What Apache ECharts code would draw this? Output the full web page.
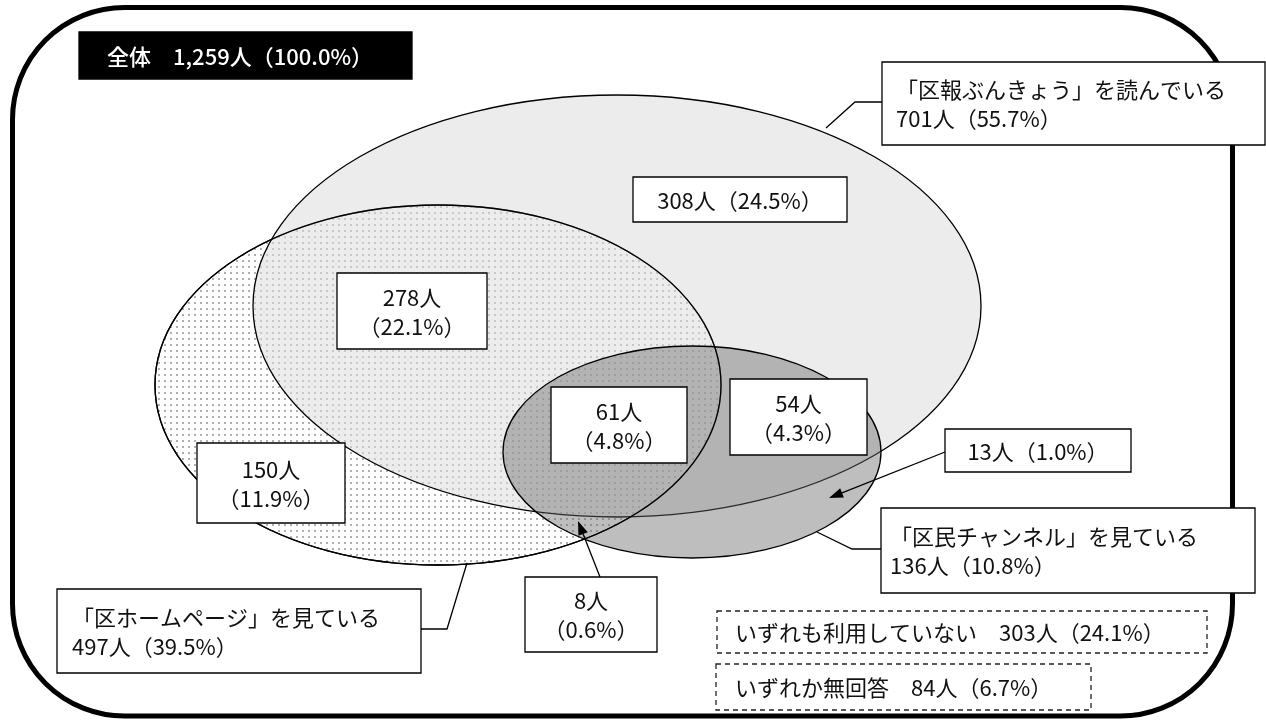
<!DOCTYPE html>
<html>
<head>
<meta charset="utf-8">
<title>媒体の利用状況</title>
<style>
html, body { margin: 0; padding: 0; background: #fff; }
#container { width: 1266px; height: 722px; }
</style>
<script src="https://cdn.jsdelivr.net/npm/echarts@6.0.0/dist/echarts.min.js"></script>
</head>
<body>
<div id="container"></div>
<script>
'use strict';

// 回答者全体
var totalName = '全体';
var totalCount = 1259;
var totalPercent = 100.0;

// 各媒体の利用者
var setNames = ['「区報ぶんきょう」を読んでいる', '「区ホームページ」を見ている', '「区民チャンネル」を見ている'];
var setCounts = [701, 497, 136];
var setPercents = [55.7, 39.5, 10.8];

// 重なりごとの人数 (区報のみ, 区報・HP, 3つ全て, 区報・CH, HPのみ, HP・CH, CHのみ)
var regionCounts = [308, 278, 61, 54, 150, 8, 13];
var regionPercents = [24.5, 22.1, 4.8, 4.3, 11.9, 0.6, 1.0];

// その他
var otherNames = ['いずれも利用していない', 'いずれか無回答'];
var otherCounts = [303, 84];
var otherPercents = [24.1, 6.7];

/**
 * レイアウト (画面座標, 1266x722)
 */
var FONT = '"Noto Sans CJK JP", "Noto Sans CJK SC", sans-serif';
var setShapes = [[617, 306, 364, 211], [438, 385, 283, 180], [692, 452, 189, 106]];
var setBoxes = [[882, 62, 1265, 145], [57, 589, 421, 673], [881, 508, 1255, 593]];
var setTextX = [896, 72, 890];
var setLeaders = [
	[[882, 102], [855, 102], [826, 128]],
	[[421, 629], [447, 629], [467, 563]],
	[[881, 549], [852, 549], [817, 532]]
];
var regionBoxes = [
	[633, 177, 847, 222], [337, 273, 487, 349], [551, 387, 687, 463], [730, 379, 867, 455],
	[197, 443, 345, 523], [525, 577, 657, 652], [945, 429, 1131, 472]
];
var regionOneLine = [true, false, false, false, false, false, true];
var regionArrows = {
	5: [[600, 577], [578, 521]],
	6: [[945, 452], [829, 498]]
};
var otherBoxes = [[717, 611, 1207, 653], [716, 664, 1091, 710]];
var titleBox = [79, 32, 412, 79];

function num(n) {
	return n.toLocaleString('en-US');
}
function pct(p) {
	return p.toFixed(1) + '%';
}

// ドット柄
var dots = document.createElement('canvas');
dots.width = 6;
dots.height = 6;
(function() {
	var ctx = dots.getContext('2d');
	ctx.fillStyle = '#fff';
	ctx.fillRect(0, 0, 6, 6);
	ctx.fillStyle = '#3a3a3a';
	ctx.beginPath();
	ctx.arc(3, 3, 0.75, 0, Math.PI * 2);
	ctx.fill();
})();

var setFills = ['rgba(220,220,220,0.55)', { image: dots, repeat: 'repeat' }, 'rgba(100,100,100,0.42)'];

// ラベル一覧
var labelItems = [];
labelItems.push({
	box: titleBox, textX: 107, dark: true,
	text: totalName + '　' + num(totalCount) + '人（' + pct(totalPercent) + '）'
});
for(var i = 0; i < regionCounts.length; i++) {
	labelItems.push({
		box: regionBoxes[i],
		text: num(regionCounts[i]) + '人' + (regionOneLine[i] ? '' : '\n') + '（' + pct(regionPercents[i]) + '）',
		arrow: regionArrows[i]
	});
}
for(var j = 0; j < setNames.length; j++) {
	labelItems.push({
		box: setBoxes[j], textX: setTextX[j], leader: setLeaders[j],
		text: setNames[j] + '\n' + num(setCounts[j]) + '人（' + pct(setPercents[j]) + '）'
	});
}
for(var k = 0; k < otherNames.length; k++) {
	labelItems.push({
		box: otherBoxes[k], textX: 735, dashed: true,
		text: otherNames[k] + '　' + num(otherCounts[k]) + '人（' + pct(otherPercents[k]) + '）'
	});
}

function ellipseOf(api, i) {
	var g = setShapes[i];
	var c = api.coord([g[0], g[1]]);
	var e = api.coord([g[0] + g[2], g[1] + g[3]]);
	return { cx: c[0], cy: c[1], rx: Math.abs(e[0] - c[0]), ry: Math.abs(e[1] - c[1]) };
}

function renderSet(params, api) {
	var i = api.value(0);
	return {
		type: 'ellipse',
		shape: ellipseOf(api, i),
		style: { fill: setFills[i], stroke: '#000', lineWidth: 1.3 }
	};
}

function renderOutline(params, api) {
	return {
		type: 'ellipse',
		shape: ellipseOf(api, api.value(0)),
		style: { fill: null, stroke: '#000', lineWidth: 1.3 }
	};
}

function renderLabel(params, api) {
	var item = labelItems[api.value(0)];
	var b = item.box;
	var p0 = api.coord([b[0], b[1]]);
	var p1 = api.coord([b[2], b[3]]);
	var children = [];
	if(item.leader) {
		children.push({
			type: 'polyline',
			shape: { points: item.leader.map(function(pt) { return api.coord(pt); }) },
			style: { fill: null, stroke: '#000', lineWidth: 1.3 }
		});
	}
	if(item.arrow) {
		var a = api.coord(item.arrow[0]);
		var t = api.coord(item.arrow[1]);
		var dx = t[0] - a[0], dy = t[1] - a[1];
		var len = Math.sqrt(dx * dx + dy * dy);
		var ux = dx / len, uy = dy / len;
		var bx = t[0] - ux * 14, by = t[1] - uy * 14;
		children.push({
			type: 'line',
			shape: { x1: a[0], y1: a[1], x2: bx, y2: by },
			style: { stroke: '#000', lineWidth: 1.3 }
		});
		children.push({
			type: 'polygon',
			shape: { points: [t, [bx - uy * 5, by + ux * 5], [bx + uy * 5, by - ux * 5]] },
			style: { fill: '#000' }
		});
	}
	children.push({
		type: 'rect',
		shape: { x: p0[0], y: p0[1], width: p1[0] - p0[0], height: p1[1] - p0[1] },
		style: {
			fill: item.dark ? '#000' : '#fff',
			stroke: item.dashed ? '#222' : '#000',
			lineWidth: 1.3,
			lineDash: item.dashed ? [5, 4] : null
		}
	});
	var left = item.textX != null;
	children.push({
		type: 'text',
		style: {
			text: item.text,
			x: left ? api.coord([item.textX, 0])[0] : (p0[0] + p1[0]) / 2,
			y: (p0[1] + p1[1]) / 2 + 1,
			align: left ? 'left' : 'center',
			verticalAlign: 'middle',
			fill: item.dark ? '#fff' : '#111',
			fontSize: 22,
			fontWeight: item.dark ? 500 : 'normal',
			fontFamily: FONT,
			lineHeight: 29
		}
	});
	return { type: 'group', children: children };
}

var myChart = echarts.init(document.getElementById('container'));
var option = {
	animation: false,
	backgroundColor: '#fff',
	grid: { left: 0, right: 0, top: 0, bottom: 0 },
	xAxis: { type: 'value', min: 0, max: 1266, show: false },
	yAxis: { type: 'value', min: 0, max: 722, inverse: true, show: false },
	graphic: [{
		type: 'rect',
		z: 0,
		shape: { x: 12.5, y: 7.5, width: 1220, height: 708.5, r: 112 },
		style: { fill: null, stroke: '#000', lineWidth: 5 }
	}],
	series: [{
		name: 'sets',
		type: 'custom',
		z: 5,
		renderItem: renderSet,
		encode: { x: 0, y: 1 },
		// 描画順: HP, 区報, チャンネル
		data: [[1, setCounts[1]], [0, setCounts[0]], [2, setCounts[2]]]
	}, {
		name: 'outline',
		type: 'custom',
		z: 6,
		renderItem: renderOutline,
		encode: { x: 0, y: 1 },
		data: [[1, setCounts[1]]]
	}, {
		name: 'labels',
		type: 'custom',
		z: 10,
		renderItem: renderLabel,
		encode: { x: 0, y: 1 },
		data: labelItems.map(function(d, idx) { return [idx, 0]; })
	}]
};
myChart.setOption(option, true);
</script>
</body>
</html>
